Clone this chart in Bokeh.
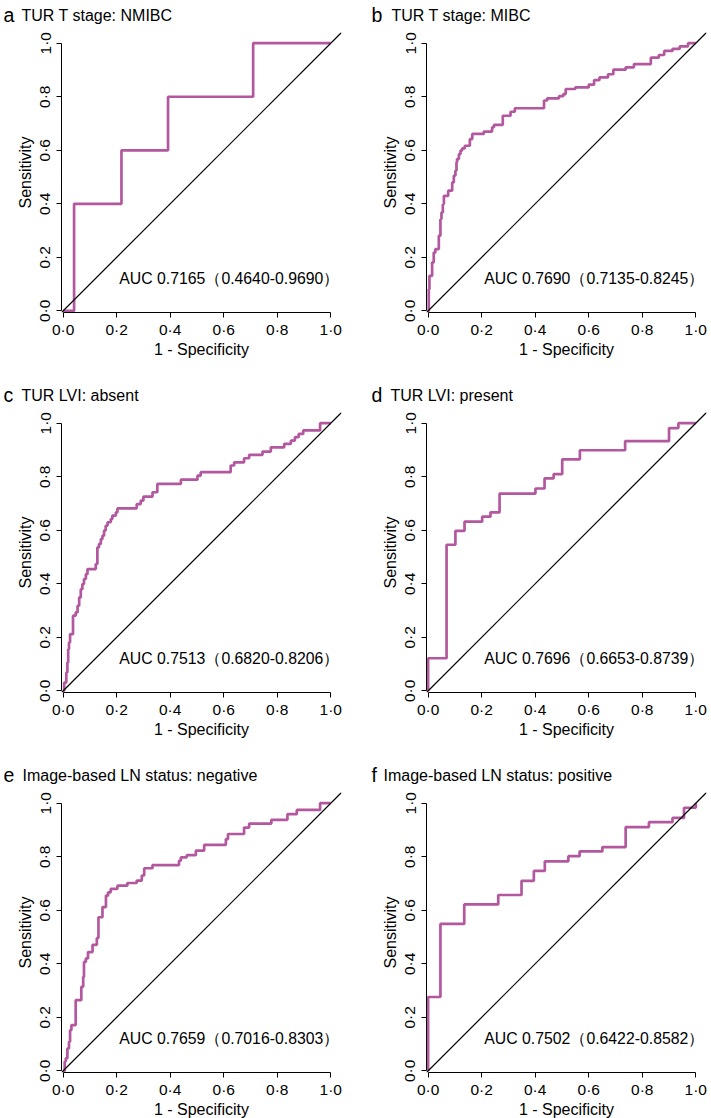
from bokeh.plotting import figure
from bokeh.models import Label, Slope, FixedTicker, Range1d
from bokeh.layouts import column, row
from bokeh.embed import file_html
from bokeh.resources import INLINE

# ---------------- data ----------------
letters = ["a", "b", "c", "d", "e", "f"]
titles = ["TUR T stage: NMIBC", "TUR T stage: MIBC", "TUR LVI: absent",
          "TUR LVI: present", "Image-based LN status: negative",
          "Image-based LN status: positive"]
auc = [0.7165, 0.7690, 0.7513, 0.7696, 0.7659, 0.7502]
ci_lo = [0.4640, 0.7135, 0.6820, 0.6653, 0.7016, 0.6422]
ci_hi = [0.9690, 0.8245, 0.8206, 0.8739, 0.8303, 0.8582]

tick_values = [0.0, 0.2, 0.4, 0.6, 0.8, 1.0]
tick_labels = ["0·0", "0·2", "0·4", "0·6", "0·8", "1·0"]

a_fpr = [0.0, 0.041, 0.218, 0.392, 0.710, 1.0]
a_tpr = [0.0, 0.400, 0.600, 0.800, 1.000, 1.0]

b_fpr = [0.0, 0.0025, 0.005, 0.015, 0.021, 0.027, 0.040, 0.046, 0.050, 0.055,
         0.059, 0.075, 0.090, 0.096, 0.102, 0.106, 0.108, 0.115, 0.121, 0.127,
         0.137, 0.156, 0.165, 0.208, 0.239, 0.246, 0.279, 0.308, 0.324, 0.433,
         0.445, 0.489, 0.505, 0.514, 0.550, 0.600, 0.620, 0.640, 0.672, 0.692,
         0.738, 0.769, 0.832, 0.862, 0.882, 0.913, 0.940, 0.971, 1.0]
b_tpr = [0.0, 0.081, 0.131, 0.181, 0.218, 0.231, 0.281, 0.343, 0.368, 0.399,
         0.430, 0.449, 0.480, 0.505, 0.524, 0.555, 0.567, 0.586, 0.599, 0.607,
         0.617, 0.642, 0.661, 0.670, 0.686, 0.695, 0.729, 0.744, 0.757, 0.786,
         0.794, 0.802, 0.810, 0.829, 0.835, 0.845, 0.862, 0.872, 0.884, 0.901,
         0.910, 0.922, 0.946, 0.956, 0.971, 0.979, 0.988, 1.0, 1.0]

c_fpr = [0.0, 0.004, 0.012, 0.016, 0.019, 0.022, 0.026, 0.037, 0.047, 0.054,
         0.060, 0.066, 0.072, 0.078, 0.085, 0.091, 0.122, 0.128, 0.134, 0.141,
         0.147, 0.153, 0.159, 0.166, 0.178, 0.184, 0.197, 0.203, 0.275, 0.290,
         0.300, 0.334, 0.352, 0.440, 0.502, 0.514, 0.626, 0.639, 0.676, 0.695,
         0.745, 0.776, 0.826, 0.851, 0.866, 0.880, 0.897, 0.960, 1.0]
c_tpr = [0.0, 0.031, 0.069, 0.106, 0.156, 0.181, 0.212, 0.281, 0.293, 0.318,
         0.349, 0.380, 0.399, 0.418, 0.436, 0.455, 0.474, 0.536, 0.549, 0.567,
         0.580, 0.599, 0.617, 0.630, 0.642, 0.655, 0.667, 0.682, 0.698, 0.711,
         0.726, 0.742, 0.773, 0.789, 0.804, 0.817, 0.842, 0.854, 0.869, 0.882,
         0.894, 0.910, 0.923, 0.935, 0.948, 0.960, 0.973, 1.0, 1.0]

d_fpr = [0.0, 0.0, 0.069, 0.102, 0.136, 0.202, 0.233, 0.267, 0.401, 0.435,
         0.469, 0.501, 0.567, 0.736, 0.900, 0.935, 1.0]
d_tpr = [0.0, 0.122, 0.546, 0.598, 0.632, 0.651, 0.667, 0.737, 0.756, 0.794,
         0.810, 0.865, 0.899, 0.933, 0.982, 1.0, 1.0]

e_fpr = [0.0, 0.006, 0.010, 0.016, 0.022, 0.026, 0.031, 0.047, 0.068, 0.075,
         0.078, 0.085, 0.093, 0.110, 0.126, 0.132, 0.147, 0.160, 0.168, 0.178,
         0.203, 0.240, 0.275, 0.294, 0.303, 0.334, 0.433, 0.440, 0.462, 0.496,
         0.527, 0.608, 0.616, 0.676, 0.695, 0.778, 0.838, 0.873, 0.960, 1.0]
e_tpr = [0.0, 0.035, 0.047, 0.084, 0.109, 0.152, 0.171, 0.264, 0.314, 0.351,
         0.407, 0.420, 0.444, 0.471, 0.496, 0.574, 0.612, 0.655, 0.667, 0.680,
         0.692, 0.702, 0.711, 0.730, 0.757, 0.769, 0.785, 0.798, 0.806, 0.823,
         0.844, 0.866, 0.885, 0.909, 0.924, 0.938, 0.959, 0.975, 1.0, 1.0]

f_fpr = [0.0, 0.0, 0.046, 0.135, 0.262, 0.349, 0.395, 0.436, 0.524, 0.566,
         0.651, 0.738, 0.825, 0.913, 0.956, 1.0]
f_tpr = [0.0, 0.276, 0.549, 0.622, 0.657, 0.710, 0.747, 0.783, 0.802, 0.820,
         0.836, 0.911, 0.929, 0.945, 0.983, 1.0]

curves = [(a_fpr, a_tpr), (b_fpr, b_tpr), (c_fpr, c_tpr),
          (d_fpr, d_tpr), (e_fpr, e_tpr), (f_fpr, f_tpr)]

# ---------------- style / layout ----------------
FONT = "Liberation Sans"
PURPLE = "#B3589F"
TITLE_H = 31
TITLE_BASE = 16.5
letter_px = [3, 16, 3, 16, 3, 16]
title_px = [21, 36, 21, 35, 22, 28]
bottom_border = [68, 68, 46]


def make_title(i, width):
    t = figure(width=width, height=TITLE_H,
               x_range=Range1d(0, width), y_range=Range1d(0, TITLE_H),
               x_axis_type=None, y_axis_type=None,
               output_backend="svg", toolbar_location=None,
               min_border_left=0, min_border_right=0,
               min_border_top=0, min_border_bottom=0,
               frame_align=False)
    t.title.visible = False
    t.outline_line_color = None
    t.xgrid.visible = False
    t.ygrid.visible = False
    t.add_layout(Label(x=letter_px[i], y=TITLE_BASE, text=letters[i],
                       text_font=FONT, text_font_size="19.5px",
                       text_baseline="alphabetic", text_color="black"))
    t.add_layout(Label(x=title_px[i], y=TITLE_BASE, text=titles[i],
                       text_font=FONT, text_font_size="16px",
                       text_baseline="alphabetic", text_color="black"))
    return t


def make_panel(i):
    left = (i % 2 == 0)
    r = i // 2
    bl = 61 if left else 71
    br = 14 if left else 5
    p = figure(frame_width=280, frame_height=280,
               x_range=Range1d(-0.006, 1.04), y_range=Range1d(-0.006, 1.04),
               output_backend="svg", toolbar_location=None,
               min_border_left=bl, min_border_right=br,
               min_border_top=1, min_border_bottom=bottom_border[r],
               frame_align=False)
    p.title.visible = False
    p.outline_line_color = None
    p.xgrid.visible = False
    p.ygrid.visible = False

    for ax in (p.xaxis[0], p.yaxis[0]):
        ax.ticker = FixedTicker(ticks=tick_values)
        ax.major_label_overrides = dict(zip(tick_values, tick_labels))
        ax.bounds = (0, 1)
        ax.minor_tick_line_color = None
        ax.major_tick_in = 0
        ax.major_tick_out = 5
        ax.axis_line_color = "black"
        ax.axis_line_width = 1
        ax.major_tick_line_color = "black"
        ax.major_label_text_font = FONT
        ax.major_label_text_font_size = "15.5px"
        ax.major_label_text_color = "black"
        ax.axis_label_text_font = FONT
        ax.axis_label_text_font_size = "16px"
        ax.axis_label_text_font_style = "normal"
        ax.axis_label_text_color = "black"
        ax.major_label_standoff = 3
        ax.axis_label_standoff = 0
    p.xaxis.axis_label = "1 - Specificity"
    p.yaxis.axis_label = "Sensitivity"
    p.yaxis.major_label_orientation = "vertical"

    p.add_layout(Slope(gradient=1, y_intercept=0, line_color="black",
                       line_width=1.2))
    fpr, tpr = curves[i]
    p.step(x=fpr, y=tpr, mode="after", line_color=PURPLE, line_width=2.7)

    txt = f"AUC {auc[i]:.4f}（{ci_lo[i]:.4f}-{ci_hi[i]:.4f}）"
    p.add_layout(Label(x=0.21, y=0.12, text=txt,
                       text_font=FONT, text_font_size="15.8px",
                       text_baseline="middle", text_color="black"))
    width = bl + 280 + br
    return column(make_title(i, width), p)


cells = [make_panel(i) for i in range(6)]
layout = column(row(cells[0], cells[1]),
                row(cells[2], cells[3]),
                row(cells[4], cells[5]))

open("out.html", "w").write(file_html(layout, INLINE))
